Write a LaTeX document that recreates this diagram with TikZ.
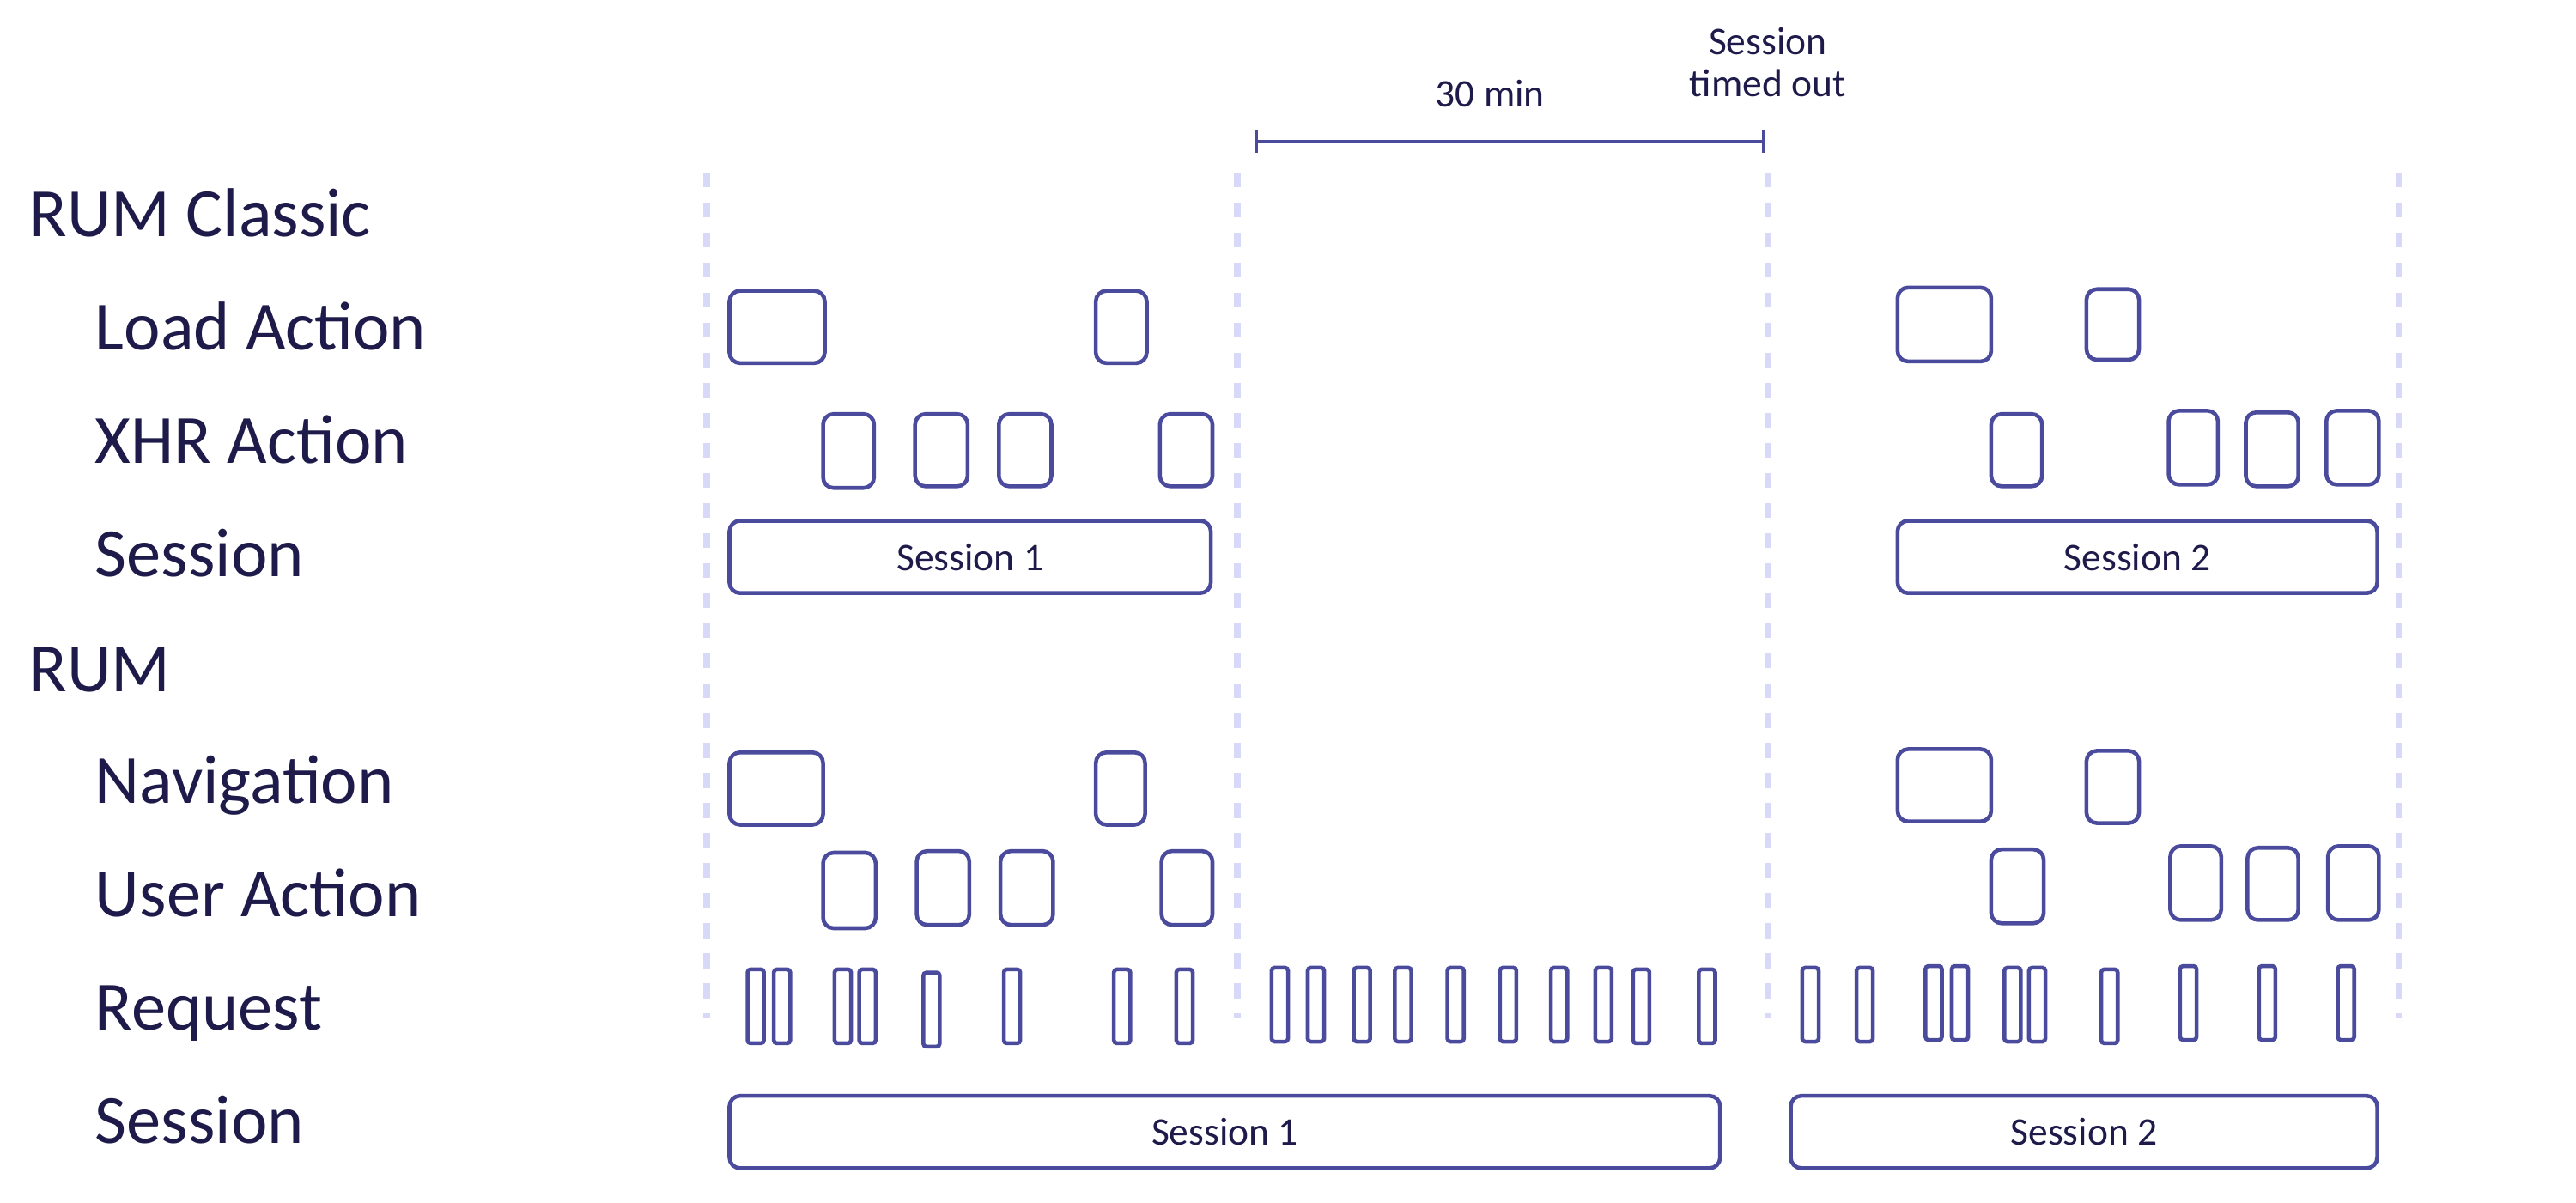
\documentclass[tikz,border=0pt]{standalone}
\usepackage{fontspec}
\setmainfont{Carlito}
\usetikzlibrary{positioning,calc}
\definecolor{boxline}{HTML}{4B4B9E}
\definecolor{ink}{HTML}{1E1B4B}
\definecolor{guide}{HTML}{D8D8F8}
\newlength\upx
\setlength{\upx}{0.019231cm}
\begin{document}
\begin{tikzpicture}
[x=\upx, y=-\upx, inner sep=0pt, outer sep=0pt,
evt/.style={draw=boxline, line width=1.3pt, rounded corners=3.5pt},
req/.style={draw=boxline, line width=1.3pt, rounded corners=1pt},
row/.style={anchor=base west, text=ink, font=\fontsize{23}{27}\selectfont},
small/.style={text=ink, font=\fontsize{13}{16}\selectfont},
guide/.style={draw=guide, line width=2.2pt, dash pattern=on 5pt off 5pt}]
\useasboundingbox (0,0) rectangle (1568,732);

% row labels
\node[row] (rc) at (18,144) {RUM Classic};
\node[row] (la) at (58,213) {Load Action};
\node[row] (xa) at (58,282) {XHR Action};
\node[row] (s1) at (58,351) {Session};
\node[row] (rum) at (18,421) {RUM};
\node[row] (nav) at (58,489) {Navigation};
\node[row] (ua) at (58,558) {User Action};
\node[row] (rq) at (58,627) {Request};
\node[row] (s2) at (58,696) {Session};

% guides
\foreach \gx/\n in {430/g1,753/g2,1076/g3,1460/g4}{
  \coordinate (\n t) at (\gx,105);
  \coordinate (\n b) at (\gx,620);
  \draw[guide] (\n t) -- (\n b);
}

% timeout scale
\coordinate (ta) at (764,86);
\coordinate (tb) at (1074,86);
\draw[boxline, line width=0.9pt, |-|] (ta) -- (tb);
\node[small] (tmin) at (907,57) {30 min};
\node[small, align=center] (tout) at (1076,38) {Session\\[-2pt]timed out};

% RUM classic events
\foreach \xa/\ya/\xb/\yb [count=\i] in {444/177/502/221, 667/177/698/221, 1155/175/1212/220, 1270/176/1302/219,
  501/252/532/297, 557/252/589/296, 608/252/640/296, 706/252/738/296,
  1212/252/1243/296, 1320/250/1350/295, 1367/251/1399/296, 1416/250/1448/295}
  \draw[evt] (\xa,\ya) rectangle (\xb,\yb) coordinate (c\i);

% RUM events
\foreach \xa/\ya/\xb/\yb [count=\i] in {444/458/501/502, 667/458/697/502, 1155/456/1212/500, 1270/457/1302/501,
  501/519/533/565, 558/518/590/563, 609/518/641/563, 707/518/738/563,
  1212/517/1244/562, 1321/515/1352/560, 1368/516/1399/560, 1417/515/1448/560}
  \draw[evt] (\xa,\ya) rectangle (\xb,\yb) coordinate (n\i);

% requests
\foreach \xa/\ya [count=\i] in {455/590, 471/590, 508/590, 523/590, 562/592, 611/590, 678/590, 716/590,
  774/589, 796/589, 824/589, 849/589, 881/589, 913/589, 944/589, 971/589, 994/590, 1034/590,
  1097/589, 1130/589, 1172/588, 1188/588, 1220/589, 1235/589, 1279/590, 1327/588, 1375/588, 1423/588}
  \draw[req] (\xa,\ya) rectangle ++(10,45) coordinate (r\i);

% sessions
\node[evt, minimum width=293*\upx, minimum height=44*\upx, small, anchor=north west] (cs1) at (444,317) {Session 1};
\node[evt, minimum width=292*\upx, minimum height=44*\upx, small, anchor=north west] (cs2) at (1155,317) {Session 2};
\node[evt, minimum width=603*\upx, minimum height=44*\upx, small, anchor=north west] (ns1) at (444,667) {Session 1};
\node[evt, minimum width=357*\upx, minimum height=44*\upx, small, anchor=north west] (ns2) at (1090,667) {Session 2};
\end{tikzpicture}
\end{document}
